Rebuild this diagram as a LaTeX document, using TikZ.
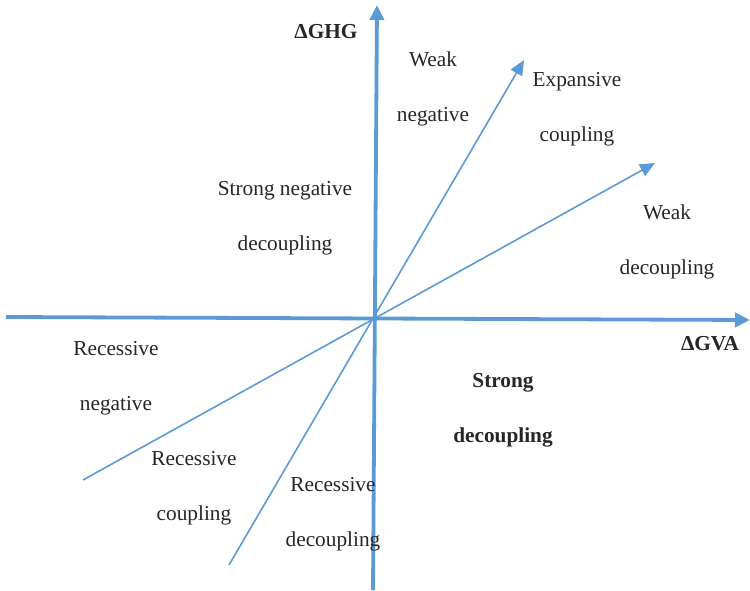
\documentclass[tikz,border=0pt]{standalone}
\usepackage{fontspec}
\setmainfont{Liberation Serif}
\usetikzlibrary{arrows.meta}
\definecolor{axisblue}{HTML}{5B9BD5}
\definecolor{txt}{HTML}{262626}
\tikzset{
  axisline/.style={draw=axisblue,line width=3.8pt,-{Triangle[length=15pt,width=14pt]}},
  diagline/.style={draw=axisblue,line width=1.6pt},
  diagarrow/.style={diagline,-{Triangle[length=15pt,width=13pt]}},
  lbl/.style={align=center,inner sep=0pt,text=txt,font=\fontsize{21.3}{55}\selectfont},
  blbl/.style={lbl,font=\fontsize{21.3}{55}\selectfont\bfseries}
}
\begin{document}
\begin{tikzpicture}[x=1pt,y=-1pt]
\useasboundingbox (0,0) rectangle (750,591);
\coordinate (xl) at (6,317);
\coordinate (xr) at (750,320);
\coordinate (yb) at (373,590);
\coordinate (yt) at (377,5);
\coordinate (d1s) at (229,565);
\coordinate (d1e) at (524,60);
\coordinate (d2s) at (83,480);
\coordinate (d2e) at (655,163);
\draw[axisline] (xl) -- (xr);
\draw[axisline] (yb) -- (yt);
\draw[diagarrow] (d1s) -- (d1e);
\draw[diagarrow] (d2s) -- (d2e);
\node[blbl] (ghg) at (326,32) {ΔGHG};
\node[blbl] (gva) at (710,344) {ΔGVA};
\node[lbl] (wn) at (433,89) {Weak\\negative};
\node[lbl] (ec) at (577,109) {Expansive\\coupling};
\node[lbl] (snd) at (285,218) {Strong negative\\decoupling};
\node[lbl] (wd) at (667,242) {Weak\\decoupling};
\node[lbl] (rn) at (116,378) {Recessive\\negative};
\node[blbl] (sd) at (503,410) {Strong\\decoupling};
\node[lbl] (rc) at (194,488) {Recessive\\coupling};
\node[lbl] (rd) at (333,514) {Recessive\\decoupling};
\end{tikzpicture}
\end{document}
